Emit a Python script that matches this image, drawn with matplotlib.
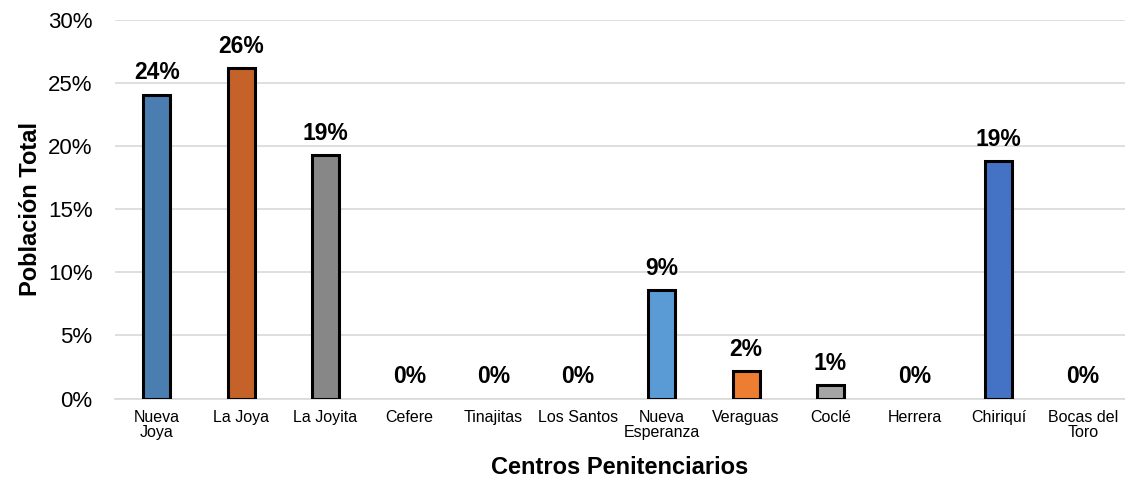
import matplotlib
matplotlib.use("Agg")
import matplotlib.pyplot as plt
from matplotlib.ticker import FuncFormatter

plt.rcParams['font.family'] = ['Liberation Sans', 'DejaVu Sans']

categories = ["Nueva\nJoya", "La Joya", "La Joyita", "Cefere", "Tinajitas", "Los Santos",
              "Nueva\nEsperanza", "Veraguas", "Coclé", "Herrera", "Chiriquí", "Bocas del\nToro"]
values = [24.1, 26.2, 19.3, 0.0, 0.0, 0.0, 8.6, 2.2, 1.1, 0.0, 18.8, 0.0]
labels = ["24%", "26%", "19%", "0%", "0%", "0%", "9%", "2%", "1%", "0%", "19%", "0%"]
colors = ["#4a7eb0", "#c5622a", "#878787", "#4a7eb0", "#4a7eb0", "#4a7eb0",
          "#5b9bd5", "#ed7d31", "#a5a5a5", "#a5a5a5", "#4472c4", "#4472c4"]
yticks = [0, 5, 10, 15, 20, 25, 30]

fig = plt.figure(figsize=(11.25, 4.79), dpi=100)
ax = fig.add_axes([0.102, 0.168, 0.898, 0.79])

x = list(range(len(categories)))
lws = [2.2 if v > 0 else 0 for v in values]
ax.bar(x, values, width=0.32, color=colors, edgecolor="black", linewidth=lws, zorder=3)
for xi, v, lab in zip(x, values, labels):
    ax.text(xi, v + 0.8, lab, ha="center", va="bottom", fontsize=16.5, fontweight="bold", zorder=4)

ax.set_xlim(-0.5, len(categories) - 0.5)
ax.set_ylim(0, 30)
ax.set_yticks(yticks)
ax.yaxis.set_major_formatter(FuncFormatter(lambda v, p: f"{v:.0f}%"))
ax.set_xticks(x)
ax.set_xticklabels(categories, fontsize=11.5, linespacing=1.05)
ax.tick_params(axis="y", labelsize=16, length=0, pad=16)
ax.tick_params(axis="x", length=0, pad=8)
ax.grid(axis="y", color="#d9d9d9", linewidth=1.2, zorder=0)
for s in ["top", "right", "left"]:
    ax.spines[s].set_visible(False)
ax.spines["bottom"].set_color("#d9d9d9")
ax.spines["bottom"].set_linewidth(1.2)

ax.set_xlabel("Centros Penitenciarios", fontsize=17, fontweight="bold", labelpad=11)
ax.set_ylabel("Población Total", fontsize=17, fontweight="bold", labelpad=4)

fig.savefig("out.png", dpi=100)
